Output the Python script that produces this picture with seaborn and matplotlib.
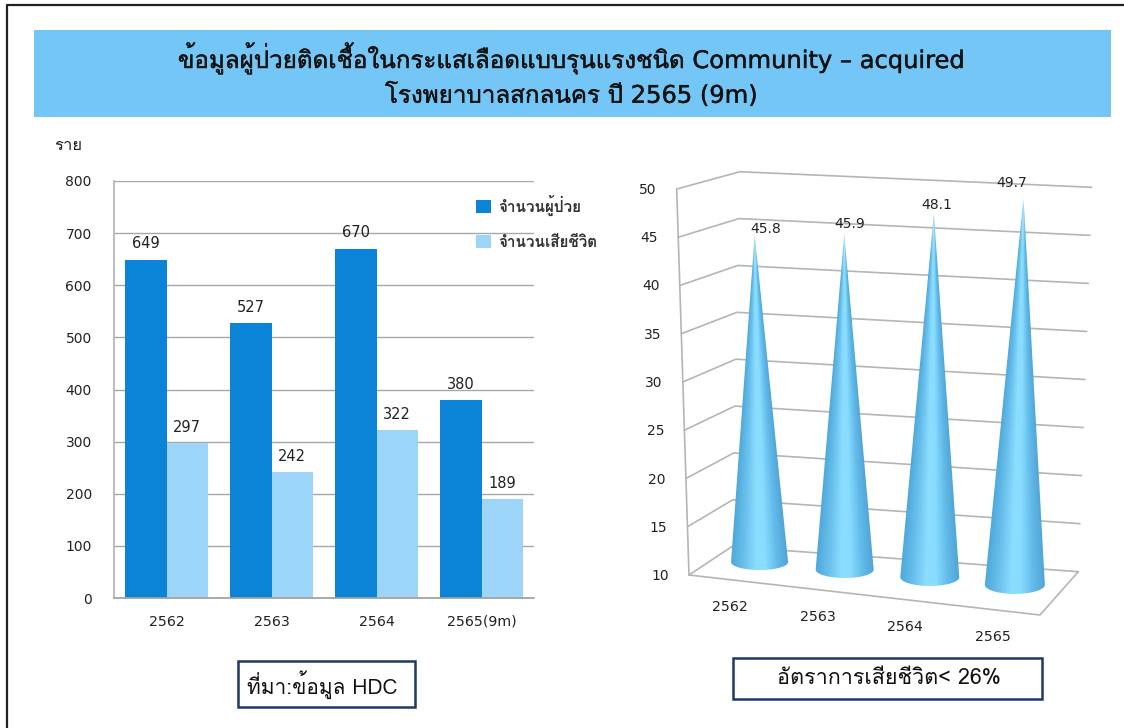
import matplotlib
matplotlib.use("Agg")
import matplotlib.pyplot as plt
import matplotlib.patheffects as pe
from matplotlib.patches import Polygon, Rectangle
import numpy as np
import pandas as pd
import seaborn as sns

W, H = 1124, 728

years = ["2562", "2563", "2564", "2565(9m)"]
patients = [649, 527, 670, 380]
deaths = [297, 242, 322, 189]
series_names = ["จำนวนผู้ป่วย", "จำนวนเสียชีวิต"]

rate_years = ["2562", "2563", "2564", "2565"]
death_rate = [45.8, 45.9, 48.1, 49.7]
rate_ticks = [10, 15, 20, 25, 30, 35, 40, 45, 50]

title_1 = "ข้อมูลผู้ป่วยติดเชื้อในกระแสเลือดแบบรุนแรงชนิด Community – acquired"
title_2 = "โรงพยาบาลสกลนคร ปี 2565 (9m)"
unit_label = "ราย"
source_label = "ที่มา:ข้อมูล HDC"
target_label = "อัตราการเสียชีวิต< 26%"

DARK = "#0b84d8"
LIGHT = "#9cd5f8"
BANNER = "#73c6f5"
NAVY = "#1f3864"
GRID = "#b5b5b5"
THAI = ["Loma", "DejaVu Sans"]
LATIN = ["DejaVu Sans", "Loma"]

sns.set_theme(style="white")
plt.rcParams["font.family"] = THAI

fig = plt.figure(figsize=(W / 100, H / 100), dpi=100)

# whole figure overlay in pixels, for the frame, banner and the fake 3D chart
bg = fig.add_axes([0, 0, 1, 1])
bg.set_xlim(0, W)
bg.set_ylim(H, 0)
bg.axis("off")

bg.plot([7, 7, 1124], [728, 5, 5], color="#222222", lw=1.6)
bg.add_patch(Rectangle((34, 30), 1077, 87, color=BANNER, lw=0))
thick = [pe.withStroke(linewidth=0.3, foreground="#111111")]
for y, line in [(58, title_1), (95, title_2)]:
    bg.text(571, y, line, ha="center", va="center", fontsize=17.4, color="#111111",
            family=LATIN, path_effects=thick)
bg.text(54, 146, unit_label, ha="left", va="center", fontsize=12, color="#222222")


# Left chart
left, right, top, bottom = 114, 534, 181, 598
ax = fig.add_axes([left / W, 1 - bottom / H, (right - left) / W, (bottom - top) / H])
ax.patch.set_alpha(0)
df = pd.DataFrame({
    "year": years * 2,
    "count": patients + deaths,
    "series": [series_names[0]] * 4 + [series_names[1]] * 4,
})
sns.barplot(data=df, x="year", y="count", hue="series", palette=[DARK, LIGHT],
            width=0.79, saturation=1, linewidth=0, ax=ax)
ax.set_ylim(0, 800)
ax.set_yticks(range(0, 801, 100))
ax.set_xlabel("")
ax.set_ylabel("")
ax.yaxis.grid(True, color="#a8a8a8", lw=1)
ax.set_axisbelow(True)
sns.despine(ax=ax, top=True, right=True)
ax.spines["left"].set_color("#b5b5b5")
ax.spines["bottom"].set_color("#a0a0a0")
ax.tick_params(axis="y", length=0, pad=16, labelsize=10, labelcolor="#222222")
ax.tick_params(axis="x", length=0, pad=12, labelsize=10.2, labelcolor="#222222")
for lab in ax.get_yticklabels() + ax.get_xticklabels():
    lab.set_family(LATIN)
for container in ax.containers:
    for lab in ax.bar_label(container, padding=6, fontsize=10.5, color="#222222"):
        lab.set_family(LATIN)
ax.legend(frameon=False, loc="upper left", bbox_to_anchor=(0.863, 0.967), handlelength=0.95,
          handleheight=0.95, handletextpad=0.45, labelspacing=1.25, borderpad=0, borderaxespad=0,
          prop={"family": THAI, "weight": "bold", "size": 11}, labelcolor="#333333")


# Right chart, wall corners in pixels at value 10 and value 50
FRONT_LEFT = ((689.0, 575.0), (676.7, 189.0))
BACK_LEFT = ((731.7, 546.7), (740.0, 171.7))
BACK_RIGHT = ((1078.3, 571.7), (1091.7, 187.3))
FRONT_RIGHT = (1040.0, 615.0)


def wall_point(corner, v):
    t = (v - 10) / 40
    return (corner[0][0] + (corner[1][0] - corner[0][0]) * t,
            corner[0][1] + (corner[1][1] - corner[0][1]) * t)


def floor_point(fx, fz):
    # fx goes along the categories, fz from the front edge to the back
    fl, bl, br, fr = FRONT_LEFT[0], BACK_LEFT[0], BACK_RIGHT[0], FRONT_RIGHT
    front = (fl[0] + (fr[0] - fl[0]) * fx, fl[1] + (fr[1] - fl[1]) * fx)
    back = (bl[0] + (br[0] - bl[0]) * fx, bl[1] + (br[1] - bl[1]) * fx)
    return front[0] + (back[0] - front[0]) * fz, front[1] + (back[1] - front[1]) * fz


for v in rate_ticks:
    a, b, c = wall_point(FRONT_LEFT, v), wall_point(BACK_LEFT, v), wall_point(BACK_RIGHT, v)
    bg.plot([a[0], b[0], c[0]], [a[1], b[1], c[1]], color=GRID, lw=1.2, zorder=2)
    bg.text(a[0] - 20, a[1] + 1, str(v), ha="right", va="center", fontsize=10,
            family=LATIN, color="#222222")
a, b = wall_point(FRONT_LEFT, 10), wall_point(FRONT_LEFT, 50)
bg.plot([a[0], b[0]], [a[1], b[1]], color=GRID, lw=1.2, zorder=2)
bg.plot([FRONT_LEFT[0][0], FRONT_RIGHT[0], BACK_RIGHT[0][0]],
        [FRONT_LEFT[0][1], FRONT_RIGHT[1], BACK_RIGHT[0][1]], color=GRID, lw=1.2, zorder=2)

# cone shading across the width, -1 left edge to 1 right edge
shade_u = [-1.0, -0.55, -0.1, 0.2, 0.6, 1.0]
shade_r = [78, 105, 140, 135, 100, 80]
shade_g = [168, 192, 222, 220, 188, 165]
shade_b = [218, 236, 255, 255, 234, 214]
label_offsets = [(11, -5), (5, -10), (3, -8), (-12, -15)]

for i, (year, rate) in enumerate(zip(rate_years, death_rate)):
    cx, cy = floor_point(0.129 + 0.2443 * i, 0.6)
    half = 28.5 + 0.5 * i
    minor = 8 + 0.4 * i
    scale = 9.15 + 0.2 * i
    height = (rate - 10) * scale
    tip_x = cx + (cx - 852) * 0.053
    tip_y = cy - height

    # shaded image clipped to the cone outline
    x0, x1 = int(cx - half - 10), int(cx + half + 12)
    y0, y1 = int(tip_y - 2), int(cy + minor + 3)
    xs, ys = np.meshgrid(np.arange(x0, x1) + 0.5, np.arange(y0, y1) + 0.5)
    t = np.clip((ys - tip_y) / height, 0.002, 1)
    u = np.clip((xs - (tip_x + (cx - tip_x) * t)) / (half * t), -1, 1)
    rgb = np.dstack([np.interp(u, shade_u, s) for s in (shade_r, shade_g, shade_b)]) / 255
    # tips fade to a paler blue
    fade = np.clip(1 - t / 0.12, 0, 1)[..., None] * 0.55
    rgb = rgb * (1 - fade) + np.array([0.85, 0.95, 1.0]) * fade
    im = bg.imshow(rgb, extent=(x0, x1, y1, y0), aspect="auto", interpolation="bilinear", zorder=3)
    th = np.linspace(0, np.pi, 40)
    outline = [(tip_x, tip_y)] + list(zip(cx + half * np.cos(th), cy + minor * np.sin(th)))
    clip = Polygon(outline, closed=True, transform=bg.transData)
    im.set_clip_path(clip)

    dx, dy = label_offsets[i]
    bg.text(tip_x + dx, tip_y + dy, f"{rate:.1f}", ha="center", va="center", fontsize=10,
            family=LATIN, color="#222222", zorder=5)
    ex, ey = floor_point((i + 0.5) / 4, 0)
    bg.text(ex - 3, ey + 27, year, ha="center", va="center", fontsize=10.2,
            family=LATIN, color="#222222")

bg.set_xlim(0, W)
bg.set_ylim(H, 0)

# note boxes
bg.add_patch(Rectangle((238, 661), 177, 46, fc="white", ec=NAVY, lw=1.8, zorder=2))
bg.text(322, 685, source_label, ha="center", va="center", fontsize=15, color="#111111", zorder=3)
bg.add_patch(Rectangle((733, 658), 309, 41, fc="white", ec=NAVY, lw=1.8, zorder=2))
bg.text(889, 679, target_label, ha="center", va="center", fontsize=15.5, color="#111111", zorder=3)

fig.savefig("out.png", dpi=100)
